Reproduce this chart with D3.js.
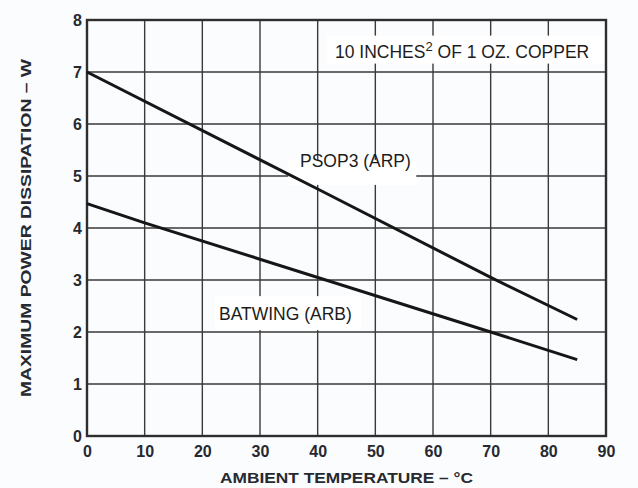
<!DOCTYPE html>
<html>
<head>
<meta charset="utf-8">
<script src="https://cdn.jsdelivr.net/npm/d3@7"></script>
<style>
  body { margin: 0; background: #fbfcfe; }
  svg { display: block; }
</style>
</head>
<body>
<svg id="chart" width="638" height="488"></svg>
<script>
// values
const psop3 = [[0, 7.0], [40, 4.75], [70, 3.05], [85, 2.24]];
const batwing = [[0, 4.47], [10, 4.1], [70, 2.0], [85, 1.47]];
const xTicks = [0, 10, 20, 30, 40, 50, 60, 70, 80, 90];
const yTicks = [0, 1, 2, 3, 4, 5, 6, 7, 8];

//layout
const chart = {};
chart.left = 87;
chart.right = 606;
chart.top = 20;
chart.bottom = 436;

chart.svg = d3.select("#chart");

chart.x = d3.scaleLinear().domain([0, 90]).range([chart.left, chart.right]);
chart.y = d3.scaleLinear().domain([0, 8]).range([chart.bottom, chart.top]);

//grid lines
const grid = chart.svg.append("g").attr("stroke", "#3a3a3a").attr("stroke-width", 1.4);

grid.selectAll(".vx")
  .data(xTicks.slice(1, -1))
  .join("line")
  .attr("x1", (d) => chart.x(d))
  .attr("x2", (d) => chart.x(d))
  .attr("y1", chart.top)
  .attr("y2", chart.bottom);

grid.selectAll(".hy")
  .data(yTicks.slice(1, -1))
  .join("line")
  .attr("x1", chart.left)
  .attr("x2", chart.right)
  .attr("y1", (d) => chart.y(d))
  .attr("y2", (d) => chart.y(d));

//label boxes covering the grid
function label(x, y, w, h) {
  chart.svg.append("rect")
    .attr("x", chart.x(x)).attr("y", chart.y(y))
    .attr("width", w).attr("height", h)
    .attr("fill", "#ffffff");
}
label(41.5, 7.7, 278, 28);
label(34.9, 5.31, 128, 25);
label(22.2, 2.69, 146, 34);

//frame
chart.svg.append("rect")
  .attr("x", chart.left)
  .attr("y", chart.top)
  .attr("width", chart.right - chart.left)
  .attr("height", chart.bottom - chart.top)
  .attr("fill", "none")
  .attr("stroke", "#2e2e2e")
  .attr("stroke-width", 2.4);

//curves
const line = d3.line()
  .x((d) => chart.x(d[0]))
  .y((d) => chart.y(d[1]));

chart.svg.selectAll(".curve")
  .data([psop3, batwing])
  .join("path")
  .attr("d", line)
  .attr("fill", "none")
  .attr("stroke", "#161616")
  .attr("stroke-width", 3);

//axes (labels only, grid drawn above)
const xAxis = chart.svg.append("g")
  .attr("transform", "translate(0," + chart.bottom + ")")
  .call(d3.axisBottom(chart.x).tickValues(xTicks).tickSize(0).tickPadding(10));

const yAxis = chart.svg.append("g")
  .attr("transform", "translate(" + chart.left + ",0)")
  .call(d3.axisLeft(chart.y).tickValues(yTicks).tickSize(0).tickPadding(5));

[xAxis, yAxis].forEach((a) => {
  a.select(".domain").remove();
  a.selectAll("text")
    .attr("font-family", "'Liberation Sans', Arial, sans-serif")
    .attr("font-weight", "bold")
    .attr("font-size", 16)
    .attr("fill", "#262a30");
});

//axis titles
chart.svg.append("text")
  .attr("x", (chart.left + chart.right) / 2)
  .attr("y", 483)
  .attr("text-anchor", "middle")
  .attr("font-family", "'Liberation Sans', Arial, sans-serif")
  .attr("font-weight", "bold")
  .attr("font-size", 15.5)
  .attr("textLength", 253)
  .attr("lengthAdjust", "spacingAndGlyphs")
  .attr("fill", "#262a30")
  .text("AMBIENT TEMPERATURE – °C");

chart.svg.append("text")
  .attr("transform", "translate(31," + (chart.top + chart.bottom) / 2 + ") rotate(-90)")
  .attr("text-anchor", "middle")
  .attr("font-family", "'Liberation Sans', Arial, sans-serif")
  .attr("font-weight", "bold")
  .attr("font-size", 15)
  .attr("textLength", 338)
  .attr("lengthAdjust", "spacingAndGlyphs")
  .attr("fill", "#262a30")
  .text("MAXIMUM POWER DISSIPATION – W");

//annotations
const note = chart.svg.append("text")
  .attr("x", 335)
  .attr("y", 58)
  .attr("font-family", "'Liberation Sans', Arial, sans-serif")
  .attr("font-size", 17.5)
  .attr("fill", "#1c1c1c");
note.append("tspan").text("10 INCHES");
note.append("tspan").attr("dy", -7).attr("font-size", 13).text("2");
note.append("tspan").attr("dy", 7).text(" OF 1 OZ. COPPER");

chart.svg.append("text")
  .attr("x", 300)
  .attr("y", 167)
  .attr("font-family", "'Liberation Sans', Arial, sans-serif")
  .attr("font-size", 17.5)
  .attr("fill", "#1c1c1c")
  .text("PSOP3 (ARP)");

chart.svg.append("text")
  .attr("x", 219)
  .attr("y", 320)
  .attr("font-family", "'Liberation Sans', Arial, sans-serif")
  .attr("font-size", 17.5)
  .attr("fill", "#1c1c1c")
  .text("BATWING (ARB)");
</script>
</body>
</html>
